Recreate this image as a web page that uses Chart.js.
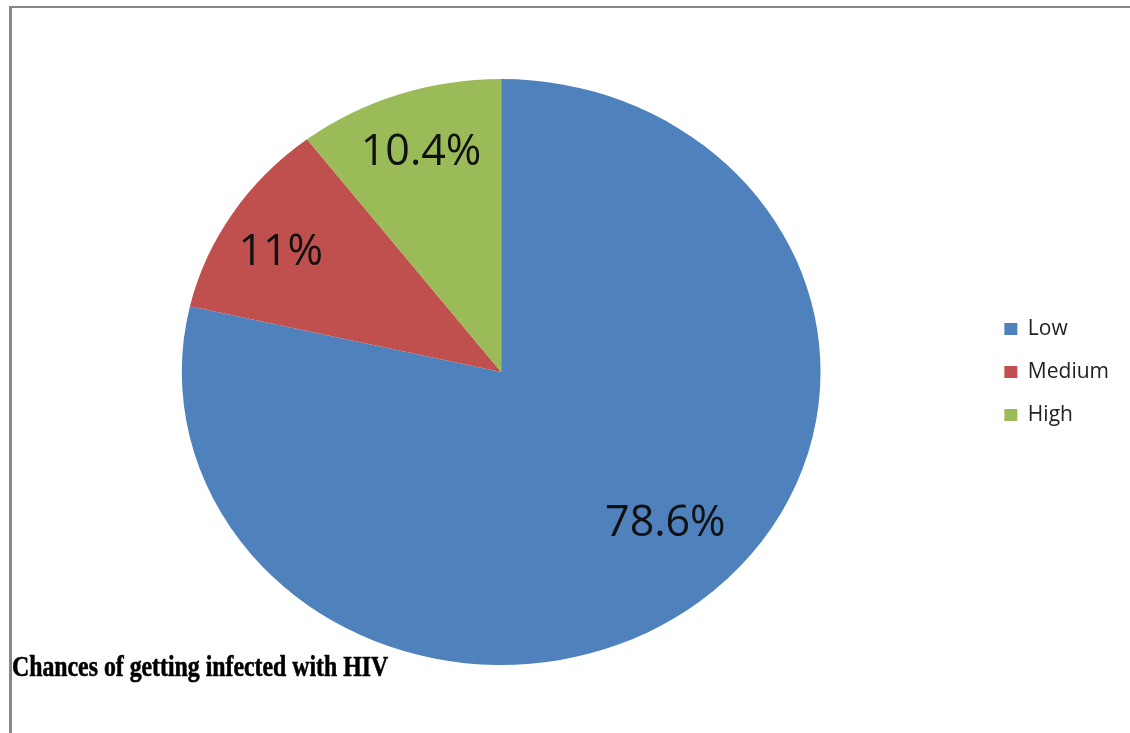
<!DOCTYPE html>
<html>
<head>
<meta charset="utf-8">
<title>Chances of getting infected with HIV</title>
<script src="https://cdn.jsdelivr.net/npm/chart.js@4.4.1/dist/chart.umd.min.js"></script>
<style>
  html, body { margin: 0; padding: 0; background: #ffffff; }
  #wrap { position: relative; width: 1130px; height: 733px; overflow: hidden; }
  #frame {
    position: absolute; left: 9px; top: 6px; right: -10px; bottom: -10px;
    border-top: 2px solid #878787; border-left: 3px solid #878787;
  }
  #chart { position: absolute; left: 0; top: 0; }
  #caption {
    position: absolute; left: 12px; top: 648px;
    font-family: "Liberation Serif", "Times New Roman", serif;
    font-weight: bold; font-size: 30px; line-height: 36px; color: #000;
    white-space: nowrap; transform-origin: 0 0;
    -webkit-text-stroke: 0.6px #000;
  }
</style>
</head>
<body>
<div id="wrap">
  <div id="frame"></div>
  <canvas id="chart" width="1130" height="733"></canvas>
  <div id="caption">Chances of getting infected with HIV</div>
</div>
<script>
// Risk perception shares (percent)
const categories = ["Low", "Medium", "High"];
const shares = [78.6, 11, 10.4];
const valueLabels = ["78.6%", "11%", "10.4%"];
const sliceColors = ["#4F81BD", "#C0504D", "#9BBB59"];

// The pie is drawn slightly wider than tall, and the value labels sit
// at a chosen fraction of the radius around each slice's middle angle.
const ovalPie = {
  id: "ovalPie",
  beforeDatasetsDraw(chart, args, opts) {
    const arc = chart.getDatasetMeta(0).data[0];
    if (!arc) return;
    const ctx = chart.ctx;
    ctx.save();
    ctx.translate(arc.x, arc.y);
    ctx.scale(opts.stretchX, 1);
    ctx.translate(-arc.x, -arc.y);
  },
  afterDatasetsDraw(chart, args, opts) {
    const ctx = chart.ctx;
    ctx.restore();
    const meta = chart.getDatasetMeta(0);
    ctx.save();
    ctx.font = opts.font;
    ctx.fillStyle = opts.color;
    ctx.textAlign = "center";
    ctx.textBaseline = "middle";
    meta.data.forEach((arc, i) => {
      const place = opts.placement[i];
      const mid = (arc.startAngle + arc.endAngle) / 2 + place.shift * Math.PI / 180;
      const r = arc.outerRadius * place.frac;
      const x = arc.x + Math.cos(mid) * r * opts.stretchX;
      const y = arc.y + Math.sin(mid) * r;
      ctx.fillText(valueLabels[i], x, y + 1);
    });
    ctx.restore();
  }
};

new Chart(document.getElementById("chart"), {
  type: "pie",
  data: {
    labels: categories,
    datasets: [{
      data: shares,
      backgroundColor: sliceColors,
      borderWidth: 0,
      hoverOffset: 0
    }]
  },
  plugins: [ovalPie],
  options: {
    responsive: false,
    animation: false,
    events: [],
    layout: { padding: { left: 20, right: 11, top: 79, bottom: 68 } },
    plugins: {
      tooltip: { enabled: false },
      title: { display: false },
      legend: {
        position: "right",
        align: "center",
        labels: {
          boxWidth: 13,
          boxHeight: 12,
          padding: 22,
          color: "#222222",
          font: { family: "'Open Sans', sans-serif", size: 21 }
        }
      },
      ovalPie: {
        stretchX: 1.09,
        font: "43px 'Open Sans', sans-serif",
        color: "#111111",
        placement: [
          { frac: 0.728, shift: -6.4 },
          { frac: 0.803, shift: -2.0 },
          { frac: 0.794, shift: 0.3 }
        ]
      }
    }
  }
});

// Fit the caption to its column width
const cap = document.getElementById("caption");
cap.style.transform = "scaleX(" + (376 / cap.offsetWidth) + ")";
</script>
</body>
</html>
